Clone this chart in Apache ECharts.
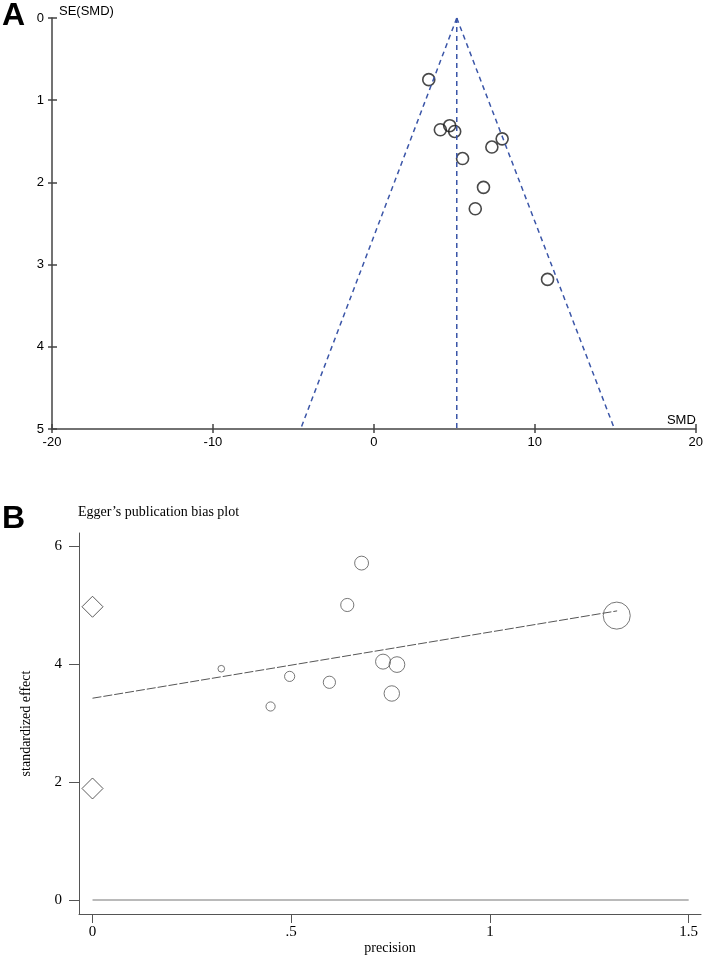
<!DOCTYPE html>
<html>
<head>
<meta charset="utf-8">
<script src="https://cdn.jsdelivr.net/npm/echarts/dist/echarts.min.js"></script>
<style>
    html, body { margin: 0; padding: 0; background: #fff; }
    #chartdiv { width: 706px; height: 959px; }
</style>
</head>
<body>
<div id="chartdiv"></div>
<script>
// panel A - funnel plot
var smd = [3.41, 4.13, 4.71, 5.02, 5.51, 7.33, 7.97, 6.81, 6.30, 10.79];
var seSmd = [0.75, 1.36, 1.31, 1.38, 1.71, 1.57, 1.47, 2.06, 2.32, 3.18];
var funnelY = [0, 5];
var pooledX = [5.15, 5.15];
var lowerX = [5.15, -4.55];
var upperX = [5.15, 14.95];

// panel B - Egger plot
var precision = [1.319, 0.677, 0.641, 0.324, 0.496, 0.596, 0.448, 0.731, 0.766, 0.753];
var stdEffect = [4.82, 5.71, 5.00, 3.92, 3.79, 3.69, 3.28, 4.04, 3.99, 3.50];
var diamondX = [0, 0];
var diamondY = [4.97, 1.89];
var eggerX = [0, 1.32];
var eggerY = [3.42, 4.90];
var zeroX = [0, 1.5];
var zeroY = [0, 0];
var precTicks = [0, 0.5, 1, 1.5];
var effectTicks = [0, 2, 4, 6];

function pairs(xs, ys) {
    var out = [];
    for (var i = 0; i < xs.length; i++) {
        out.push([xs[i], ys[i]]);
    }
    return out;
}

draw_plots();

function draw_plots() {
    var myChart = echarts.init(document.getElementById("chartdiv"));
    var sans = 'Liberation Sans';
    var serif = 'Liberation Serif';
    var axisA = { lineStyle: { color: '#444', width: 1.5 }, onZero: false };
    var axisB = { lineStyle: { color: '#555', width: 1 }, onZero: false };
    var hidden = { show: false, onZero: false };
    var blueDash = { color: '#3b56a8', width: 1.5, type: [5, 4] };

    var option = {
        animation: false,
        title: [
            { text: 'A', left: 2, top: 0, padding: 0, textStyle: { fontFamily: sans, fontSize: 32, fontWeight: 'bold', color: '#000' } },
            { text: 'B', left: 2, top: 503, padding: 0, textStyle: { fontFamily: sans, fontSize: 32, fontWeight: 'bold', color: '#000' } },
            { text: 'Egger’s publication bias plot', left: 78, top: 505, padding: 0, textStyle: { fontFamily: serif, fontSize: 14, fontWeight: 'normal', color: '#000' } }
        ],
        grid: [
            { left: 52, top: 18, width: 646, height: 411 },
            { left: 79, top: 533, right: 5, bottom: 45 }
        ],
        xAxis: [
            {
                gridIndex: 0, type: 'value', position: 'bottom', min: -20, max: 20, interval: 10,
                name: 'SMD', nameLocation: 'end', nameGap: 0,
                nameTextStyle: { fontFamily: sans, fontSize: 13, color: '#000', align: 'right', verticalAlign: 'bottom', padding: [0, 0, 2, 0] },
                axisLine: axisA,
                axisTick: { length: 4, lineStyle: { color: '#444', width: 1.5 } },
                axisLabel: { fontFamily: sans, fontSize: 13, color: '#000', margin: 7 },
                splitLine: { show: false }
            },
            {
                gridIndex: 0, type: 'value', position: 'bottom', min: -20, max: 20, interval: 10,
                axisLine: hidden,
                axisTick: { inside: true, length: 5, lineStyle: { color: '#444', width: 1.5 } },
                axisLabel: { show: false },
                splitLine: { show: false }
            },
            {
                gridIndex: 1, type: 'value', position: 'bottom', min: -0.034, max: 1.531,
                name: 'precision', nameLocation: 'middle', nameGap: 24,
                nameTextStyle: { fontFamily: serif, fontSize: 14, color: '#000' },
                axisLine: axisB,
                axisTick: { length: 9, customValues: precTicks, lineStyle: { color: '#555' } },
                axisLabel: {
                    fontFamily: serif, fontSize: 15, color: '#000', margin: 11, customValues: precTicks,
                    formatter: function (v) {
                        return v > 0 && v < 1 ? String(v).replace('0.', '.') : String(v);
                    }
                },
                splitLine: { show: false }
            }
        ],
        yAxis: [
            {
                gridIndex: 0, type: 'value', position: 'left', min: 0, max: 5, interval: 1, inverse: true,
                name: 'SE(SMD)', nameLocation: 'start', nameGap: 0,
                nameTextStyle: { fontFamily: sans, fontSize: 13, color: '#000', align: 'left', verticalAlign: 'bottom', padding: [0, 0, 0, 7] },
                axisLine: axisA,
                axisTick: { length: 4, lineStyle: { color: '#444', width: 1.5 } },
                axisLabel: { fontFamily: sans, fontSize: 13, color: '#000', margin: 8 },
                splitLine: { show: false }
            },
            {
                gridIndex: 0, type: 'value', position: 'left', min: 0, max: 5, interval: 1, inverse: true,
                axisLine: hidden,
                axisTick: { inside: true, length: 5, lineStyle: { color: '#444', width: 1.5 } },
                axisLabel: { show: false },
                splitLine: { show: false }
            },
            {
                gridIndex: 1, type: 'value', position: 'left', min: -0.237, max: 6.22,
                name: 'standardized effect', nameLocation: 'middle', nameGap: 46,
                nameTextStyle: { fontFamily: serif, fontSize: 14, color: '#000' },
                axisLine: axisB,
                axisTick: { length: 10, customValues: effectTicks, lineStyle: { color: '#555' } },
                axisLabel: { fontFamily: serif, fontSize: 15, color: '#000', margin: 17, customValues: effectTicks },
                splitLine: { show: false }
            }
        ],
        series: [
            {
                name: 'pooled', type: 'line', xAxisIndex: 0, yAxisIndex: 0,
                data: pairs(pooledX, funnelY), symbol: 'none', lineStyle: blueDash
            },
            {
                name: 'lower', type: 'line', xAxisIndex: 0, yAxisIndex: 0,
                data: pairs(lowerX, funnelY), symbol: 'none', lineStyle: blueDash
            },
            {
                name: 'upper', type: 'line', xAxisIndex: 0, yAxisIndex: 0,
                data: pairs(upperX, funnelY), symbol: 'none', lineStyle: blueDash
            },
            {
                name: 'studies', type: 'scatter', xAxisIndex: 0, yAxisIndex: 0,
                data: pairs(smd, seSmd), symbol: 'circle', symbolSize: 12,
                itemStyle: { color: 'rgba(0,0,0,0)', borderColor: '#1a1a1a', borderWidth: 1.6 }
            },
            {
                name: 'zero', type: 'line', xAxisIndex: 2, yAxisIndex: 2,
                data: pairs(zeroX, zeroY), symbol: 'none',
                lineStyle: { color: '#777', width: 1.2 }
            },
            {
                name: 'egger', type: 'line', xAxisIndex: 2, yAxisIndex: 2,
                data: pairs(eggerX, eggerY), symbol: 'none',
                lineStyle: { color: '#555', width: 1, type: [9, 2] }
            },
            {
                name: 'ci', type: 'scatter', xAxisIndex: 2, yAxisIndex: 2,
                data: pairs(diamondX, diamondY), symbol: 'diamond', symbolSize: [21, 21],
                itemStyle: { color: 'rgba(0,0,0,0)', borderColor: '#333', borderWidth: 1 }
            },
            {
                name: 'effects', type: 'scatter', xAxisIndex: 2, yAxisIndex: 2,
                data: pairs(precision, stdEffect), symbol: 'circle',
                symbolSize: function (val) { return val[0] * 20.5; },
                itemStyle: { color: 'rgba(0,0,0,0)', borderColor: '#555', borderWidth: 1 }
            }
        ]
    };

    myChart.setOption(option);
}
</script>
</body>
</html>
